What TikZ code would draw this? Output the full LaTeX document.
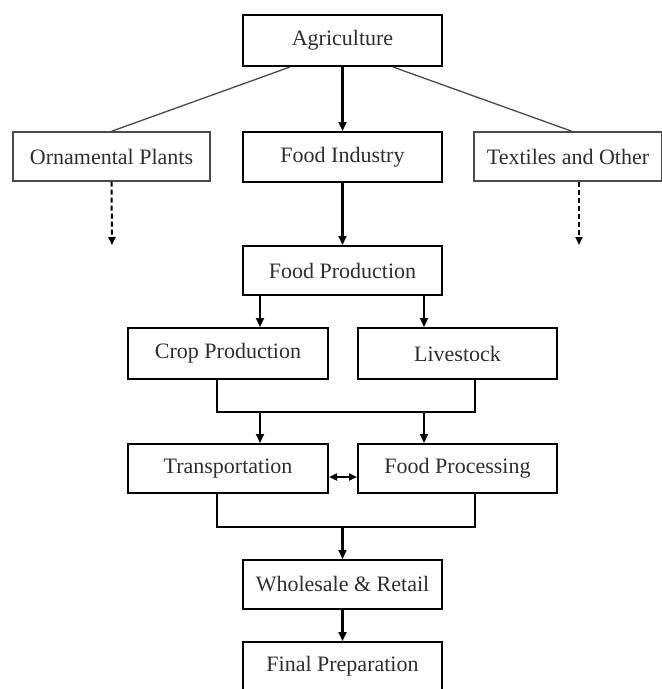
\documentclass[tikz,border=0pt]{standalone}
\usepackage{fontspec}
\setmainfont{Liberation Serif}
\usetikzlibrary{arrows.meta}
\definecolor{txt}{HTML}{2E2E2E}
\definecolor{thin}{HTML}{4A4A4A}
\begin{document}
\begin{tikzpicture}[x=1pt,y=-1pt,
  box/.style={draw=black,line width=2pt,minimum width=199pt,minimum height=50pt,inner sep=0pt,
    font=\fontsize{22}{26}\selectfont,text=txt},
  sidebox/.style={box,draw=thin,line width=1.4pt},
  link/.style={line width=2.2pt,draw=black},
  arr/.style={link,-{Triangle[length=9pt,width=8pt]}},
  darr/.style={line width=2pt,dash pattern=on 5pt off 3pt,-{Triangle[length=8pt,width=7pt]}},
  slant/.style={line width=1.3pt,draw=thin}]
\useasboundingbox[fill=white] (0,0) rectangle (662,689);
\node[box,minimum height=51pt] (agri) at (342.5,40.5) {Agriculture};
\node[box] (fi) at (342.5,157) {Food Industry};
\node[sidebox,minimum width=197pt,minimum height=49pt] (orn) at (111.5,156.5) {Ornamental Plants};
\node[sidebox,minimum width=188pt,minimum height=49pt] (tex) at (568,156.5) {Textiles and Other};
\node[box,minimum height=49pt] (fp) at (342.5,270.5) {Food Production};
\node[box,minimum width=200pt,minimum height=51pt] (crop) at (228,353.5) {Crop Production};
\node[box,minimum height=51pt] (live) at (457.5,353.5) {Livestock};
\node[box,minimum width=200pt,minimum height=49pt] (trans) at (228,468.5) {Transportation};
\node[box,minimum height=49pt] (proc) at (457.5,468.5) {Food Processing};
\node[box,minimum height=49pt] (ws) at (342.5,584.5) {Wholesale \& Retail};
\node[box,minimum height=49pt] (fin) at (342.5,666.5) {Final Preparation};
% side coordinates
\coordinate (oe) at (112,245);
\coordinate (te) at (579,245);
\coordinate (cl) at (260,0);
\coordinate (cr) at (424,0);
\coordinate (dl) at (217,0);
\coordinate (dr) at (475,0);
\coordinate (m1) at (0,412);
\coordinate (m2) at (0,527);
% connectors
\draw[arr] (agri.south) -- (fi.north);
\draw[slant] ([xshift=-52.5pt]agri.south) -- (orn.north);
\draw[slant] ([xshift=50.5pt]agri.south) -- ([xshift=4pt]tex.north);
\draw[darr] (orn.south) -- (oe);
\draw[darr] ([xshift=11pt]tex.south) -- (te);
\draw[arr] (fi.south) -- (fp.north);
\draw[arr] (fp.south -| cl) -- (crop.north -| cl);
\draw[arr] (fp.south -| cr) -- (live.north -| cr);
\draw[link] (crop.south -| dl) |- (m1 -| dr) -- (live.south -| dr);
\draw[arr] (m1 -| cl) -- (trans.north -| cl);
\draw[arr] (m1 -| cr) -- (proc.north -| cr);
\draw[link,{Triangle[length=8pt,width=7pt]}-{Triangle[length=8pt,width=7pt]}] ([yshift=-8.5pt]trans.east) -- ([yshift=-8.5pt]proc.west);
\draw[link] (trans.south -| dl) |- (m2 -| dr) -- (proc.south -| dr);
\draw[arr] (m2 -| ws.north) -- (ws.north);
\draw[arr] (ws.south) -- (fin.north);
\end{tikzpicture}
\end{document}
